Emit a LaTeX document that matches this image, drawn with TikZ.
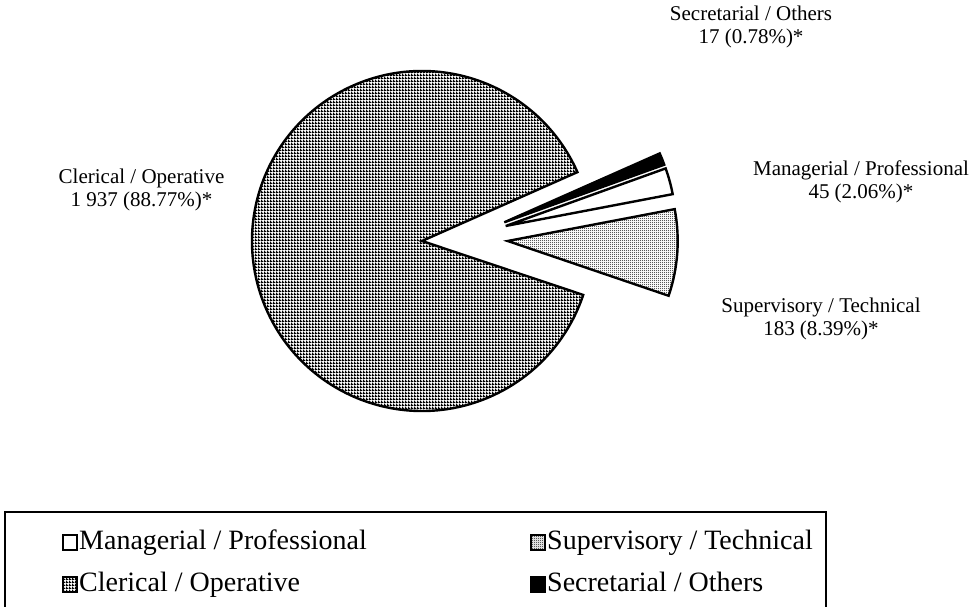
\documentclass[tikz,border=0pt]{standalone}
\usepackage{fontspec}
\setmainfont{Liberation Serif}
\usetikzlibrary{patterns}
\pgfdeclarepatternformonly{clgrid}{\pgfqpoint{0bp}{0bp}}{\pgfqpoint{3bp}{3bp}}{\pgfqpoint{3bp}{3bp}}{%
  \pgfpathrectangle{\pgfqpoint{0bp}{0bp}}{\pgfqpoint{3bp}{1.5bp}}%
  \pgfpathrectangle{\pgfqpoint{0bp}{0bp}}{\pgfqpoint{1.5bp}{3bp}}%
  \pgfusepath{fill}}
\pgfdeclarepatternformonly{spcheck}{\pgfqpoint{0bp}{0bp}}{\pgfqpoint{2bp}{2bp}}{\pgfqpoint{2bp}{2bp}}{%
  \pgfpathrectangle{\pgfqpoint{0bp}{0bp}}{\pgfqpoint{0.8bp}{0.8bp}}%
  \pgfpathrectangle{\pgfqpoint{1bp}{1bp}}{\pgfqpoint{0.8bp}{0.8bp}}%
  \pgfusepath{fill}}
\tikzset{
  slice/.style={draw=black, line width=2.4bp, line join=miter},
  cler/.style={slice, pattern=clgrid},
  supv/.style={slice, pattern=spcheck},
  mgr/.style={slice, fill=white},
  sec/.style={slice, fill=black},
  lbl/.style={align=center, inner sep=0pt, font=\fontsize{21bp}{23bp}\selectfont},
  leg/.style={anchor=base west, inner sep=0pt, font=\fontsize{28bp}{30bp}\selectfont},
  legsq/.style={draw=black, line width=1.2bp},
}
\begin{document}
\begin{tikzpicture}[x=1bp, y=1bp]
\useasboundingbox (0,0) rectangle (976,607);
% slices
\draw[cler] (422,366) -- ++(23.9:170) arc[start angle=23.9, end angle=341.5, radius=170] -- cycle;
\draw[supv] (507.7,366) -- ++(-18.8:170) arc[start angle=-18.8, end angle=10.8, radius=170] -- cycle;
\draw[mgr] (505.7,381) -- ++(10.8:170) arc[start angle=10.8, end angle=19.8, radius=170] -- cycle;
\draw[sec] (504.3,384.7) -- ++(19.8:170) arc[start angle=19.8, end angle=23.9, radius=170] -- cycle;
% labels
\node[lbl] (lcler) at (141.5,417.5) {Clerical / Operative\\1 937 (88.77\%)*};
\node[lbl] (lsec) at (751,580) {Secretarial / Others\\17 (0.78\%)*};
\node[lbl] (lmgr) at (861,425.5) {Managerial / Professional\\45 (2.06\%)*};
\node[lbl] (lsup) at (821,288) {Supervisory / Technical\\183 (8.39\%)*};
% legend
\draw[line width=1.8bp] (5,-10) -- (5,95) -- (826,95) -- (826,-10);
\node[leg] (gm) at (79,57) {Managerial / Professional};
\node[leg] (gs) at (547,57) {Supervisory / Technical};
\node[leg] (gc) at (79,15) {Clerical / Operative};
\node[leg] (go) at (547,15) {Secretarial / Others};
\draw[legsq, fill=white] ([xshift=-16bp]gm.base west) rectangle ++(14,15);
\draw[legsq, pattern=spcheck] ([xshift=-16bp]gs.base west) rectangle ++(14,15);
\draw[legsq, pattern=clgrid] ([xshift=-16bp]gc.base west) rectangle ++(14,15);
\draw[legsq, fill=black] ([xshift=-16bp]go.base west) rectangle ++(14,15);
\end{tikzpicture}
\end{document}
